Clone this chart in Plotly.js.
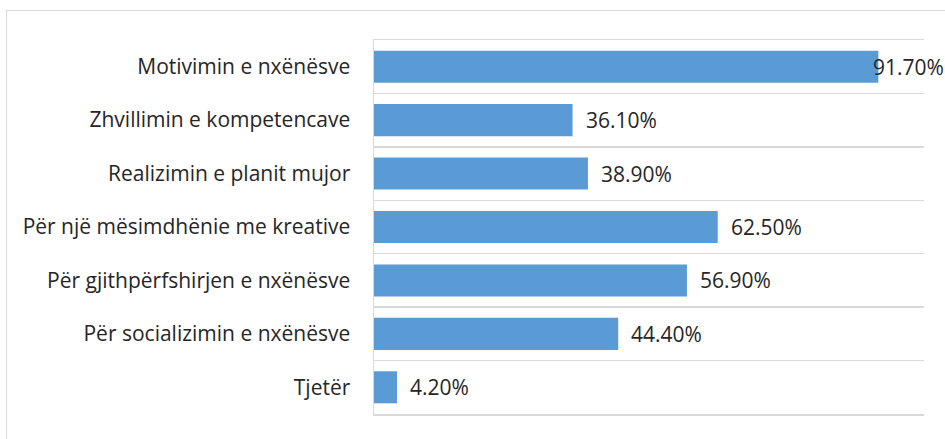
<!DOCTYPE html>
<html>
<head>
<meta charset="utf-8">
<script src="https://cdn.plot.ly/plotly-3.0.1.min.js"></script>
<style>
  html, body { margin: 0; padding: 0; background: #fff; }
  #wrap { position: relative; width: 945px; height: 439px; overflow: hidden; }
  #chart { width: 945px; height: 439px; }
  #frame { position: absolute; left: 6px; top: 10px; width: 980px; height: 480px;
           border: 1px solid #d9d9d9; pointer-events: none; box-sizing: border-box; }
</style>
</head>
<body>
<div id="wrap">
  <div id="chart"></div>
  <div id="frame"></div>
</div>
<script>
const categories = [
  "Motivimin e nxënësve",
  "Zhvillimin e kompetencave",
  "Realizimin e planit mujor",
  "Për një mësimdhënie me kreative",
  "Për gjithpërfshirjen e nxënësve",
  "Për socializimin e nxënësve",
  "Tjetër"
];
const values = [91.7, 36.1, 38.9, 62.5, 56.9, 44.4, 4.2];
const valueLabels = ["91.70%", "36.10%", "38.90%", "62.50%", "56.90%", "44.40%", "4.20%"];

const FONT = "'Open Sans', 'Noto Sans', sans-serif";
const TEXT_COLOR = "#262626";

const trace = {
  type: "bar",
  orientation: "h",
  x: values,
  y: categories,
  marker: { color: "#5B9BD5" },
  hoverinfo: "skip"
};

const annotations = values.map((v, i) => ({
  x: v,
  y: categories[i],
  xref: "x",
  yref: "y",
  text: valueLabels[i],
  showarrow: false,
  xanchor: "left",
  yanchor: "middle",
  xshift: v > 85 ? -7 : 11,
  font: { family: FONT, size: 21, color: TEXT_COLOR }
}));

const layout = {
  width: 945,
  height: 439,
  margin: { l: 374, r: 21, t: 40, b: 25, pad: 0 },
  paper_bgcolor: "#ffffff",
  plot_bgcolor: "#ffffff",
  showlegend: false,
  bargap: 0.4,
  xaxis: {
    range: [0, 100],
    showgrid: false,
    zeroline: false,
    showticklabels: false,
    showline: true,
    mirror: true,
    linecolor: "#d9d9d9",
    linewidth: 1.5,
    ticks: "",
    fixedrange: true
  },
  yaxis: {
    type: "category",
    autorange: "reversed",
    tickson: "boundaries",
    showgrid: true,
    gridcolor: "#d9d9d9",
    gridwidth: 1.5,
    showline: true,
    linecolor: "#d9d9d9",
    linewidth: 1.5,
    ticks: "",
    ticklabelstandoff: 18,
    tickfont: { family: FONT, size: 21, color: TEXT_COLOR },
    fixedrange: true
  },
  annotations: annotations
};

Plotly.newPlot("chart", [trace], layout, { displayModeBar: false, staticPlot: true });
</script>
</body>
</html>
